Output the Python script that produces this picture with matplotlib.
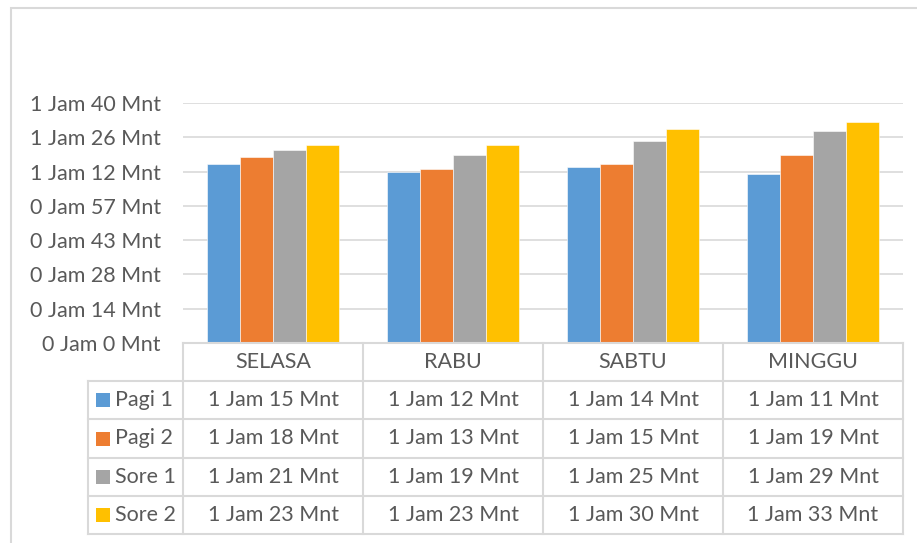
import math

import matplotlib

matplotlib.use("Agg")
from matplotlib import pyplot as plt
from matplotlib.lines import Line2D
from matplotlib.patches import Rectangle

days = ["SELASA", "RABU", "SABTU", "MINGGU"]
series_names = ["Pagi 1", "Pagi 2", "Sore 1", "Sore 2"]
# durations in minutes
pagi_1 = [75, 72, 74, 71]
pagi_2 = [78, 73, 75, 79]
sore_1 = [81, 79, 85, 89]
sore_2 = [83, 83, 90, 93]
series_values = [pagi_1, pagi_2, sore_1, sore_2]
colors = ["#5B9BD5", "#ED7D31", "#A5A5A5", "#FFC000"]

W, H = 917, 543
TEXT = "#595959"
LINE = "#d9d9d9"
plt.rcParams["font.family"] = ["Lato", "DejaVu Sans"]
FS = 15.5


def fx(x):
    return x / W


def fy(y):
    return 1 - y / H


def fmt(m):
    m = math.floor(m + 1e-6)
    return f"{m // 60} Jam {m % 60} Mnt"


fig = plt.figure(figsize=(W / 100, H / 100), dpi=100)
fig.patch.set_facecolor("white")

# outer chart border (only top and left edges visible)
fig.add_artist(Rectangle((fx(11), fy(560)), fx(940) - fx(11), fy(8) - fy(560),
                         transform=fig.transFigure, fill=False, edgecolor=LINE, linewidth=1.5))

left, right, top, bottom = 183, 903, 103, 343
ax = fig.add_axes([fx(left), fy(bottom), fx(right) - fx(left), fy(top) - fy(bottom)])

step = 14.4
ax.set_ylim(0, step * 7)
ax.set_xlim(-0.5, len(days) - 0.5)
ticks = [step * i for i in range(8)]
ax.set_yticks(ticks)
ax.set_yticklabels([fmt(t) for t in ticks], fontsize=FS, color=TEXT)
ax.tick_params(axis="y", length=0, pad=16)
ax.set_xticks([])
for s in ax.spines.values():
    s.set_visible(False)
ax.grid(axis="y", color=LINE, linewidth=1.2)
ax.set_axisbelow(True)

bw = 0.183
for j, vals in enumerate(series_values):
    xs = [i + (j - 1.5) * bw for i in range(len(days))]
    ax.bar(xs, vals, width=bw, color=colors[j], edgecolor="white", linewidth=0.4, zorder=2)

# data table below the plot
col_edges = [183, 363, 543, 723, 903]
row_edges = [343, 381, 419, 458, 496, 534]
legend_left = 88

def hline(y, x0, x1):
    fig.add_artist(Line2D([fx(x0), fx(x1)], [fy(y), fy(y)], color=LINE, linewidth=1.5))


def vline(x, y0, y1):
    fig.add_artist(Line2D([fx(x), fx(x)], [fy(y0), fy(y1)], color=LINE, linewidth=1.5))


hline(row_edges[0], col_edges[0], col_edges[-1])
for y in row_edges[1:]:
    hline(y, legend_left, col_edges[-1])
for x in col_edges:
    vline(x, row_edges[0], row_edges[-1])
vline(legend_left, row_edges[1], row_edges[-1])

for i, day in enumerate(days):
    cx = (col_edges[i] + col_edges[i + 1]) / 2
    cy = (row_edges[0] + row_edges[1]) / 2
    fig.text(fx(cx), fy(cy), day, ha="center", va="center", fontsize=FS, color=TEXT)

for j, name in enumerate(series_names):
    cy = (row_edges[j + 1] + row_edges[j + 2]) / 2
    fig.add_artist(Rectangle((fx(96), fy(cy + 7)), fx(14), fy(0) - fy(14),
                             transform=fig.transFigure, color=colors[j], linewidth=0))
    fig.text(fx(115), fy(cy), name, ha="left", va="center", fontsize=FS, color=TEXT)
    for i in range(len(days)):
        cx = (col_edges[i] + col_edges[i + 1]) / 2
        fig.text(fx(cx), fy(cy), fmt(series_values[j][i]), ha="center", va="center",
                 fontsize=FS, color=TEXT)

fig.savefig("out.png", dpi=100)
plt.close(fig)
